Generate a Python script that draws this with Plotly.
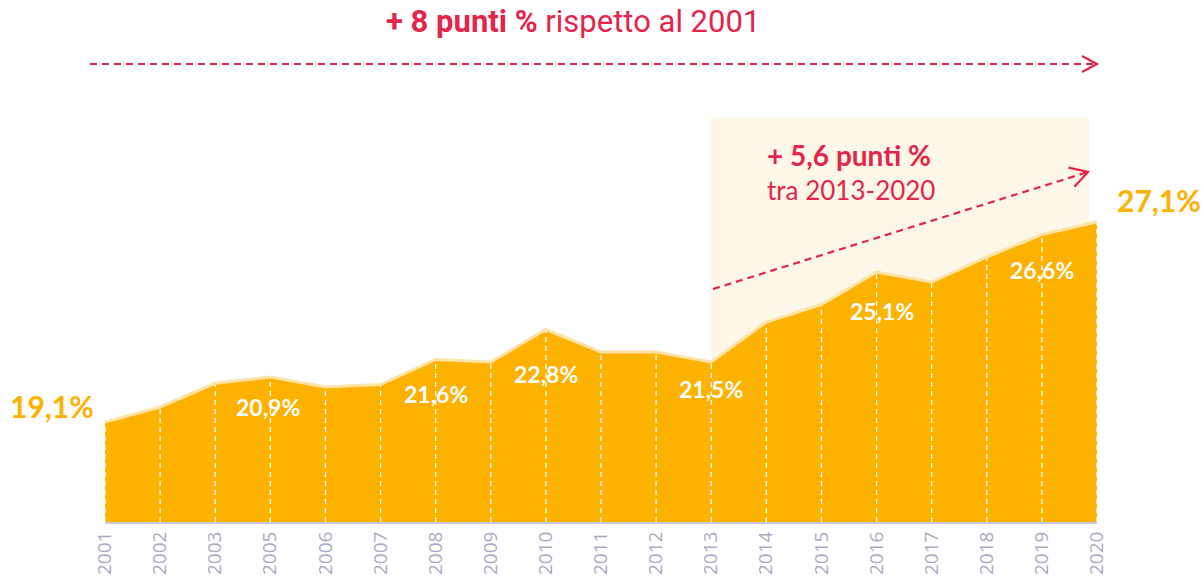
import math
import plotly.graph_objects as go

# ---- data ----
years = ["2001", "2002", "2003", "2005", "2006", "2007", "2008", "2009", "2010", "2011",
         "2012", "2013", "2014", "2015", "2016", "2017", "2018", "2019", "2020"]
values = [19.1, 19.7, 20.65, 20.9, 20.5, 20.6, 21.6, 21.5, 22.8, 21.9,
          21.9, 21.5, 23.1, 23.8, 25.1, 24.7, 25.7, 26.6, 27.1]
label_years = ["2005", "2008", "2010", "2013", "2016", "2019"]
label_texts = ["20,9%", "21,6%", "22,8%", "21,5%", "25,1%", "26,6%"]
first_label = "19,1%"
last_label = "27,1%"
title_bold = "+ 8 punti %"
title_rest = " rispetto al 2001"
box_bold = "+ 5,6 punti %"
box_rest = "tra 2013-2020"
highlight_start = "2013"

# ---- style ----
W, H = 1204, 583
L, R, T, B = 105, 107, 0, 61
PW, PH = W - L - R, H - T - B
ORANGE = "#FDB100"
RED = "#E3254B"
CREAM = "#FDF7E8"
Y0 = 15.1
YTOP = Y0 + PH / 25.0
FONT = "Lato"

idx = list(range(len(years)))


def px(x, y):
    """pixel -> paper coordinates"""
    return (x - L) / PW, (H - B - y) / PH


fig = go.Figure()

fig.add_trace(go.Scatter(
    x=idx, y=values, mode="lines", fill="tozeroy", fillcolor=ORANGE,
    line=dict(color="#FFE2A6", width=3), hoverinfo="skip", showlegend=False))

shapes = []
# highlight background
shapes.append(dict(type="rect", xref="x", yref="y",
                   x0=years.index(highlight_start), x1=len(years) - 1 - 0.145,
                   y0=Y0, y1=31.26, fillcolor=CREAM, line=dict(width=0), layer="below"))
# dashed white verticals
for i, v in zip(idx, values):
    shapes.append(dict(type="line", xref="x", yref="y", x0=i, x1=i, y0=Y0, y1=v - 0.05,
                       line=dict(color="white", width=1.3, dash="5px,4px"), layer="above"))


def arrow(x0, y0, x1, y1, head=18, ang=32):
    a0 = px(x0, y0)
    a1 = px(x1, y1)
    shapes.append(dict(type="line", xref="paper", yref="paper", x0=a0[0], y0=a0[1],
                       x1=a1[0], y1=a1[1], line=dict(color=RED, width=2.2, dash="7px,5px")))
    d = math.atan2(y1 - y0, x1 - x0)
    pts = []
    for s in (1, -1):
        th = d + math.pi + s * math.radians(ang)
        pts.append((x1 + head * math.cos(th), y1 + head * math.sin(th)))
    p1 = px(*pts[0]); pt = px(x1, y1); p2 = px(*pts[1])
    path = f"M {p1[0]},{p1[1]} L {pt[0]},{pt[1]} L {p2[0]},{p2[1]}"
    shapes.append(dict(type="path", xref="paper", yref="paper", path=path,
                       line=dict(color=RED, width=2.2)))


arrow(90, 64, 1097, 64, head=17, ang=28)
arrow(713, 289, 1088, 172, head=20, ang=30)

annotations = []
# white value labels
offsets = {"2005": (-2, -30), "2008": (0, -34), "2010": (0, -44),
           "2013": (0, -27), "2016": (5, -39), "2019": (0, -35)}
for yr, txt in zip(label_years, label_texts):
    i = years.index(yr)
    dx, dy = offsets[yr]
    annotations.append(dict(x=i, y=values[i], xref="x", yref="y", text=f"<b>{txt}</b>",
                            showarrow=False, xshift=dx, yshift=dy,
                            xanchor="center", yanchor="middle",
                            font=dict(family=FONT, size=23, color="white")))


def txt(x, y, text, size, color, family=FONT, anchor="center"):
    p = px(x, y)
    annotations.append(dict(x=p[0], y=p[1], xref="paper", yref="paper", text=text,
                            showarrow=False, xanchor=anchor, yanchor="middle",
                            font=dict(family=family, size=size, color=color)))


txt(52, 406, f"<b>{first_label}</b>", 30, ORANGE)
txt(1159, 200, f"<b>{last_label}</b>", 30, ORANGE)
txt(573, 21, f"<b>{title_bold}</b>{title_rest}", 31, RED, family="Roboto")
txt(765, 155, f"<b>{box_bold}</b>", 28, RED, anchor="left")
txt(765, 190, box_rest, 26, RED, anchor="left")

fig.update_layout(
    width=W, height=H, margin=dict(l=L, r=R, t=T, b=B),
    paper_bgcolor="white", plot_bgcolor="white",
    shapes=shapes, annotations=annotations, showlegend=False,
    xaxis=dict(range=[0, len(years) - 1], tickmode="array", tickvals=idx, ticktext=years,
               tickangle=-90, tickfont=dict(family="Open Sans", size=19, color="#A9ABC2"),
               showgrid=False, zeroline=False, showline=True, linecolor="#C9CAD3",
               linewidth=2, ticks="", fixedrange=True),
    yaxis=dict(range=[Y0, YTOP], visible=False, showgrid=False, zeroline=False, fixedrange=True),
)

fig.write_html("out.html", post_script="document.body.style.margin='0px';",
               config={"displayModeBar": False})
